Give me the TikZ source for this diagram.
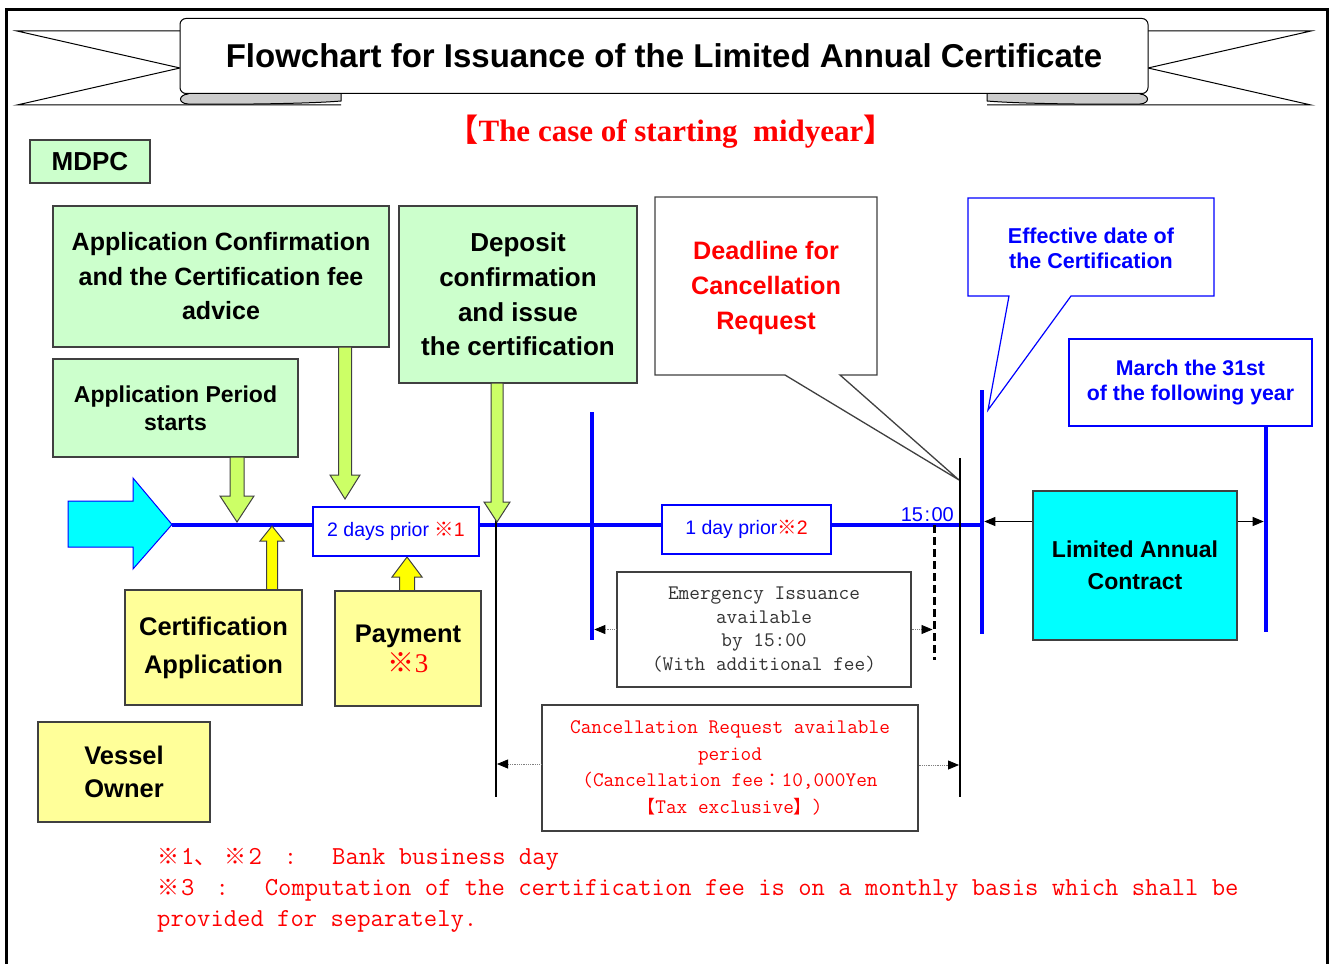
\documentclass[tikz,border=0pt]{standalone}
\usepackage{fontspec}
\setmainfont{Liberation Sans}
\newfontfamily\cjkf{Noto Sans CJK JP}
\newfontfamily\serifnt{Liberation Serif}
\usetikzlibrary{arrows.meta,calc}
\newcommand\fsz[2]{\fontsize{#1}{#2}\selectfont}
\definecolor{lgreen}{HTML}{CCFFCC}
\definecolor{lyellow}{HTML}{FFFF99}
\definecolor{limec}{HTML}{CCFF66}
\definecolor{yelc}{HTML}{FFFF00}
\definecolor{bgray}{HTML}{404040}
\definecolor{pblue}{HTML}{0000FF}
\definecolor{pred}{HTML}{FF0000}
\definecolor{tgray}{HTML}{333333}
\definecolor{curlc}{HTML}{CCCCCC}
\definecolor{cyanc}{HTML}{00FFFF}
\tikzset{
  gbox/.style={draw=bgray, fill=lgreen, line width=1.3pt, inner sep=0pt, align=center, font=\bfseries\fsz{25}{34.5}},
  ybox/.style={draw=bgray, fill=lyellow, line width=1.3pt, inner sep=0pt, align=center, font=\bfseries\fsz{25.5}{38}},
  wbox/.style={draw=bgray, fill=white, line width=1.3pt, inner sep=0pt, align=center},
  bbox/.style={draw=pblue, fill=white, line width=1.2pt, inner sep=0pt, align=center},
  bluev/.style={draw=pblue, line width=4.5pt},
  blackv/.style={draw=black, line width=2pt},
  garrow/.style={draw=bgray, fill=limec, line width=1pt},
  yarrow/.style={draw=bgray, fill=yelc, line width=1pt},
  dotarr/.style={draw=gray, densely dotted, line width=0.8pt, -{Triangle[length=11pt,width=9pt,color=black]}},
  solarr/.style={draw=black, line width=1pt, -{Triangle[length=11pt,width=9pt]}},
  callout/.style={draw=bgray, fill=white, line width=1.3pt},
  bcallout/.style={draw=pblue, fill=white, line width=1.2pt},
}
\begin{document}
\begin{tikzpicture}[x=1pt,y=-1pt]
\useasboundingbox (0,0) rectangle (1332,963);
% outer frame
\draw[line width=3pt, draw=black] (6,964) -- (6,10) -- (1327,10) -- (1327,964);

% title ribbon
\draw[line width=1pt, fill=white] (341,105) -- (17,105) -- (180,68) -- (17,31) -- (190,31);
\draw[line width=1pt, fill=white] (987,105) -- (1311,105) -- (1148,68) -- (1311,31) -- (1138,31);
\draw[line width=1pt, fill=curlc] (341,88) -- (341,101) .. controls (300,104.5) and (200,104.5) .. (188,104) .. controls (178,103.5) and (178,95) .. (188,94) -- (188,88) -- cycle;
\draw[line width=1pt, fill=curlc] (987,88) -- (987,101) .. controls (1028,104.5) and (1128,104.5) .. (1140,104) .. controls (1150,103.5) and (1150,95) .. (1140,94) -- (1140,88) -- cycle;
\node[draw, fill=white, line width=1pt, rounded corners=6pt, minimum width=968pt, minimum height=75pt, inner sep=0pt, font=\bfseries\fsz{33}{40}] (title) at (664,56) {Flowchart for Issuance of the Limited Annual Certificate};

\node[text=pred, font=\serifnt\bfseries\fsz{31}{36}] (case) at (671,132) {{\cjkf 【}The case of starting\ \ midyear{\cjkf 】}};

% MDPC side
\node[gbox, minimum width=120pt, minimum height=43pt, font=\bfseries\fsz{26}{30}] (mdpc) at (90,161.5) {MDPC};
\node[gbox, minimum width=336pt, minimum height=141pt] (appconf) at (221,276.5) {Application Confirmation\\and the Certification fee\\advice};
\node[gbox, minimum width=245pt, minimum height=98pt, font=\bfseries\fsz{23}{28}] (appstart) at (175.5,408) {Application Period\\starts};
\node[gbox, minimum width=238pt, minimum height=177pt, font=\bfseries\fsz{26}{34.7}] (deposit) at (518,294.5) {Deposit\\confirmation\\and issue\\the certification};

% callouts
\draw[callout] (655,197) -- (877,197) -- (877,375) -- (840,375) -- (959,480) -- (785,375) -- (655,375) -- cycle;
\node[text=pred, align=center, font=\bfseries\fsz{25.2}{35}] (deadline) at (766,288) {Deadline for\\Cancellation\\Request};
\draw[bcallout] (968,198) -- (1214,198) -- (1214,296) -- (1071,296) -- (988,410) -- (1009,296) -- (968,296) -- cycle;
\node[text=pblue, align=center, font=\bfseries\fsz{21.5}{25}] (effective) at (1091,248.5) {Effective date of\\the Certification};
\node[bbox, minimum width=243pt, minimum height=87pt, text=pblue, font=\bfseries\fsz{21.3}{25}] (march) at (1190.5,382.5) {March the 31st\\of the following year};

% time line
\coordinate (start) at (172,524.5);
\coordinate (effline) at (982,524.5);
\draw[draw=pblue, line width=4pt] (start) -- (effline);

\coordinate (lineA) at (592,412);
\coordinate (lineB) at (496,520);
\coordinate (lineC) at (960,458);
\coordinate (lineD) at (934,525);
\coordinate (lineE) at (982,390);
\coordinate (lineF) at (1266,426);
\draw[bluev] (lineA) -- (592,640);
\draw[blackv] (lineB) -- (496,797);
\draw[blackv] (lineC) -- (960,797);
\draw[draw=black, line width=3pt, dash pattern=on 8pt off 4pt] (lineD) -- (934,660);
\draw[bluev] (lineE) -- (982,634);
\draw[bluev] (march.south -| lineF) -- (1266,632);

% block arrows
\draw[garrow] (230,457) -- (244,457) -- (244,496) -- (254,496) -- (237,522) -- (220,496) -- (230,496) -- cycle;
\draw[garrow] (338.5,347) -- (351.5,347) -- (351.5,475) -- (360,475) -- (345,499) -- (330,475) -- (338.5,475) -- cycle;
\draw[garrow] (491,383) -- (503,383) -- (503,502) -- (510,502) -- (497,522) -- (484,502) -- (491,502) -- cycle;
\draw[yarrow] (266.5,590) -- (277.5,590) -- (277.5,541) -- (284,541) -- (272,526) -- (260,541) -- (266.5,541) -- cycle;
\draw[yarrow] (399.5,591) -- (414.5,591) -- (414.5,577) -- (422,577) -- (407,557) -- (392,577) -- (399.5,577) -- cycle;
\draw[draw=pblue, fill=cyanc, line width=1pt] (68,501) -- (133,501) -- (133,478) -- (start) -- (133,569) -- (133,547) -- (68,547) -- cycle;

% labels on time line
\node[bbox, minimum width=166pt, minimum height=49pt, text=pblue, font=\fsz{19.5}{22}] (twodays) at (396,531.5) {2 days prior \textcolor{pred}{{\cjkf ※}1}};
\node[bbox, minimum width=169pt, minimum height=49pt, text=pblue, font=\fsz{19.5}{22}] (oneday) at (746.5,529.5) {1 day prior\textcolor{pred}{{\cjkf ※}2}};
\node[text=pblue, font=\fsz{20}{22}, anchor=south east, inner sep=0pt] (time) at (954,522) {15{\hspace{1.5pt}:\hspace{1.5pt}}00};

% vessel owner side
\node[ybox, minimum width=177pt, minimum height=115pt] (certapp) at (213.5,647.5) {Certification\\Application};
\node[ybox, minimum width=146pt, minimum height=115pt, font=\bfseries\fsz{25.5}{30}] (payment) at (408,648.5) {Payment\\\textcolor{pred}{\mdseries\fsz{27}{30}{\cjkf ※}\serifnt 3}};
\node[ybox, minimum width=172pt, minimum height=100pt, font=\bfseries\fsz{25.5}{33}] (vessel) at (124,772) {Vessel\\Owner};

% periods
\node[wbox, minimum width=294pt, minimum height=115pt, text=tgray, font=\ttfamily\fsz{20.7}{23.7}] (emerg) at (764,629.5) {Emergency Issuance\\available\\by 15:00\\(With additional fee)};
\node[wbox, minimum width=376pt, minimum height=126pt, text=pred, font=\ttfamily\fsz{20.7}{26.7}] (cancel) at (730,768) {Cancellation Request available\\period\\(Cancellation fee{\cjkf\fsz{18}{26.7}：}10,000Yen\\{\cjkf\fsz{18}{26.7}【}Tax exclusive{\cjkf\fsz{18}{26.7}】})};
\node[draw=bgray, fill=cyanc, line width=1.3pt, inner sep=0pt, align=center, minimum width=204pt, minimum height=149pt, font=\bfseries\fsz{23}{32}] (contract) at (1135,565.5) {Limited Annual\\Contract};

% thin arrows
\coordinate (lvl) at (0,521.5);
\draw[dotarr, shorten >=2.3pt] (emerg.west) -- (emerg.west -| lineA);
\draw[dotarr, shorten >=1.5pt] (emerg.east) -- (emerg.east -| lineD);
\draw[dotarr, shorten >=1pt] ($(cancel.west)+(0,-4)$) -- ($(cancel.west -| lineB)+(0,-4)$);
\draw[dotarr, shorten >=1pt] ($(cancel.east)+(0,-3)$) -- ($(cancel.east -| lineC)+(0,-3)$);
\draw[solarr, shorten >=2.3pt] (contract.west |- lvl) -- (lineE |- lvl);
\draw[solarr, shorten >=2.3pt] (contract.east |- lvl) -- (lineF |- lvl);

% notes
\node[anchor=base west, inner sep=0pt, text=pred, font=\ttfamily\fsz{25.9}{31}] (note1) at (157,864) {\makebox[24pt][l]{\cjkf\fsz{22}{31}※}1\makebox[30pt][l]{\cjkf\fsz{22}{31}、}\makebox[24pt][l]{\cjkf\fsz{22}{31}※}2\hspace{22pt}:\hspace{35pt}Bank business day};
\node[anchor=base west, inner sep=0pt, text=pred, font=\ttfamily\fsz{25.9}{31}] (note2) at (157,895) {\makebox[24pt][l]{\cjkf\fsz{22}{31}※}3\hspace{21pt}:\hspace{36pt}Computation of the certification fee is on a monthly basis which shall be};
\node[anchor=base west, inner sep=0pt, text=pred, font=\ttfamily\fsz{25.9}{31}] (note3) at (157,926) {provided for separately.};
\end{tikzpicture}
\end{document}
